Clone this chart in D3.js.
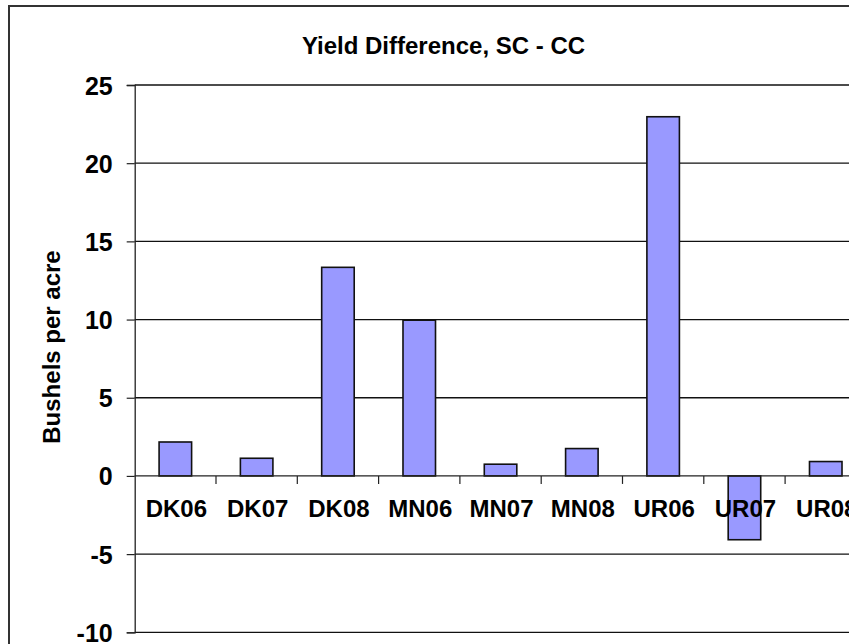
<!DOCTYPE html>
<html>
<head>
<meta charset="utf-8">
<script src="https://cdn.jsdelivr.net/npm/d3@7/dist/d3.min.js"></script>
<style>
  html, body { margin: 0; padding: 0; background: #fff; }
  svg { display: block; }
  text { font-family: "Liberation Sans", Arial, sans-serif; font-weight: bold; fill: #000; }
</style>
</head>
<body>
<script>
// Yield difference (SC minus CC) by site-year, bushels per acre
const categories = ["DK06", "DK07", "DK08", "MN06", "MN07", "MN08", "UR06", "UR07", "UR08"];
const yieldDiff = [2.17, 1.13, 13.34, 9.96, 0.75, 1.75, 22.97, -4.08, 0.92];
const yTicks = [-10, -5, 0, 5, 10, 15, 20, 25];
const titleText = "Yield Difference, SC - CC";
const yAxisTitle = "Bushels per acre";

const W = 852, H = 644;
const plot = { left: 134.7, top: 85, bottom: 632.3, right: 866.4 };

const svg = d3.select("body").append("svg")
  .attr("width", W).attr("height", H);

svg.append("defs").append("clipPath").attr("id", "frame")
  .append("rect").attr("x", 0).attr("y", 0).attr("width", 849).attr("height", H);

const g = svg.append("g").attr("clip-path", "url(#frame)");

// outer chart frame (runs past the visible edge on the right and bottom)
g.append("rect")
  .attr("x", 9).attr("y", 6)
  .attr("width", 900).attr("height", 700)
  .attr("fill", "#fff").attr("stroke", "#333").attr("stroke-width", 2);

const x = d3.scaleBand()
  .domain(categories)
  .range([plot.left, plot.right])
  .paddingInner(0.6).paddingOuter(0.3);

const y = d3.scaleLinear().domain([-10, 25]).range([plot.bottom, plot.top]);

// horizontal gridlines
g.append("g").selectAll("line")
  .data(yTicks.filter(t => t !== 0))
  .join("line")
  .attr("x1", plot.left).attr("x2", plot.right)
  .attr("y1", d => y(d)).attr("y2", d => y(d))
  .attr("stroke", "#111").attr("stroke-width", 1.3);

// value axis on the left (plain hyphen for negatives)
const yAxis = d3.axisLeft(y).tickValues(yTicks).tickFormat(d => String(d))
  .tickSize(8).tickPadding(14);
const yg = g.append("g").attr("transform", `translate(${plot.left},0)`).call(yAxis);
yg.select(".domain").attr("stroke", "#222").attr("stroke-width", 1.3);
yg.selectAll(".tick line").attr("stroke", "#222").attr("stroke-width", 1.2);
yg.selectAll(".tick text")
  .attr("font-size", 25).attr("font-family", null).attr("fill", "#000")
  .attr("dy", "0.36em");

// bars
g.append("g").selectAll("rect")
  .data(categories.map((c, i) => ({ c, v: yieldDiff[i] })))
  .join("rect")
  .attr("x", d => x(d.c))
  .attr("width", x.bandwidth())
  .attr("y", d => y(Math.max(0, d.v)))
  .attr("height", d => Math.abs(y(d.v) - y(0)))
  .attr("fill", "#9999FF")
  .attr("stroke", "#111").attr("stroke-width", 1.6);

// category axis along zero
const step = x.step();
const boundaries = d3.range(1, categories.length + 1).map(i => plot.left + i * step);
g.append("line")
  .attr("x1", plot.left).attr("x2", plot.right)
  .attr("y1", y(0)).attr("y2", y(0))
  .attr("stroke", "#222").attr("stroke-width", 1.3);
g.append("g").selectAll("line")
  .data(boundaries)
  .join("line")
  .attr("x1", d => d).attr("x2", d => d)
  .attr("y1", y(0)).attr("y2", y(0) + 8)
  .attr("stroke", "#222").attr("stroke-width", 1.2);

g.append("g").selectAll("text")
  .data(categories)
  .join("text")
  .attr("x", d => x(d) + x.bandwidth() / 2 + 1)
  .attr("y", y(0) + 41)
  .attr("text-anchor", "middle")
  .attr("font-size", 24)
  .text(d => d);

// titles
g.append("text")
  .attr("x", 443.5).attr("y", 54)
  .attr("text-anchor", "middle")
  .attr("font-size", 24)
  .text(titleText);

g.append("text")
  .attr("transform", `translate(60,347) rotate(-90)`)
  .attr("text-anchor", "middle")
  .attr("font-size", 24)
  .text(yAxisTitle);
</script>
</body>
</html>
